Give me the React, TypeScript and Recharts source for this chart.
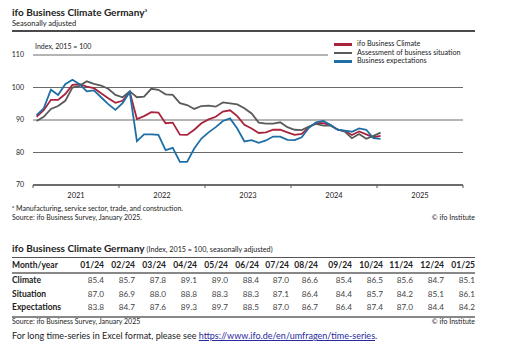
import { CartesianGrid, Legend, Line, LineChart, XAxis, YAxis } from 'recharts';

// monthly values, Jan 2021 – Jan 2025 (index, 2015 = 100)
const climate = [
  91.0, 93.0, 96.2, 96.2, 98.0, 100.8, 101.0, 100.3, 99.8, 98.2, 96.7, 95.3,
  95.9, 98.6, 90.3, 91.2, 92.4, 92.3, 89.0, 89.2, 85.5, 85.4, 87.0, 89.0,
  90.2, 91.0, 92.6, 93.0, 91.2, 88.5, 87.4, 86.0, 86.2, 87.0, 87.0, 86.2,
  85.4, 85.7, 87.8, 89.1, 89.0, 88.4, 87.0, 86.6, 85.4, 86.5, 85.6, 84.7,
  85.1,
];
const situation = [
  89.7, 91.0, 93.4, 94.3, 95.9, 100.0, 100.5, 101.9, 101.1, 100.6, 99.6, 97.7,
  97.0, 98.8, 97.0, 97.2, 99.6, 99.3, 97.9, 97.7, 95.2, 94.6, 93.4, 94.3,
  94.4, 94.1, 95.4, 95.1, 94.8, 93.6, 92.0, 89.2, 88.9, 88.9, 89.3, 87.8,
  87.0, 86.9, 88.0, 88.8, 88.3, 88.3, 87.1, 86.4, 84.4, 85.7, 84.2, 85.1,
  86.1,
];
const expectations = [
  91.5, 93.6, 99.3, 97.7, 101.0, 102.4, 101.0, 98.8, 99.1, 97.0, 94.9, 93.1,
  95.2, 98.6, 83.5, 85.6, 85.6, 85.4, 80.7, 81.4, 77.1, 77.1, 81.2, 84.3,
  86.2, 87.8, 89.7, 90.5, 87.4, 83.4, 83.8, 83.0, 83.7, 84.9, 84.9, 83.9,
  83.8, 84.7, 87.6, 89.3, 89.7, 88.5, 87.0, 86.7, 86.4, 87.4, 87.0, 84.4,
  84.2,
];
const years = ['2021', '2022', '2023', '2024', '2025'];
const yTicks = [70, 80, 90, 100, 110];
const xTicks = [0, 12, 24, 36, 48, 60];

const tableMonths = ['01/24', '02/24', '03/24', '04/24', '05/24', '06/24', '07/24', '08/24', '09/24', '10/24', '11/24', '12/24', '01/25'];
const tableRows = [
  { label: 'Climate', values: climate.slice(36) },
  { label: 'Situation', values: situation.slice(36) },
  { label: 'Expectations', values: expectations.slice(36) },
];

const SERIES = [
  { key: 'climate', name: 'ifo Business Climate', color: '#a8243c' },
  { key: 'situation', name: 'Assessment of business situation', color: '#5a5a5a' },
  { key: 'expectations', name: 'Business expectations', color: '#1f6ea6' },
];

const data = climate.map((v, i) => ({
  t: i + 0.5, // mid-month
  climate: v,
  situation: situation[i],
  expectations: expectations[i],
}));

const FONT = 'Lato, "Noto Sans", sans-serif';
const TXT = '#222';
const PLOT_W = 430;
const colW = [61, 31, 31, 31, 31, 31, 31, 30, 29, 34, 31, 30, 31, 31];

function YearTick({ x, y, payload }: any) {
  const idx = payload.value / 12;
  if (idx >= years.length) return null;
  return (
    <text x={x + PLOT_W / 10} y={y} dy={8} textAnchor="middle" fontSize={7.5} fill={TXT} fontFamily={FONT}>
      {years[idx]}
    </text>
  );
}

function LegendBox() {
  return (
    <div style={{ background: '#fff', padding: '3px 0 3px 6px', width: 140 }}>
      {SERIES.map((s) => (
        <div key={s.key} style={{ display: 'flex', alignItems: 'center', height: 8.5 }}>
          <span style={{ display: 'inline-block', width: 18, height: 2.5, background: s.color, marginRight: 5 }} />
          <span style={{ fontSize: 7.2, color: TXT, fontFamily: FONT, lineHeight: '8px' }}>{s.name}</span>
        </div>
      ))}
    </div>
  );
}

const abs = (o: any) => ({ position: 'absolute' as const, fontFamily: FONT, color: TXT, whiteSpace: 'nowrap' as const, lineHeight: 1, ...o });

export default function App() {
  return (
    <div style={{ position: 'absolute', left: 0, top: 0, width: 511, height: 355, background: '#fff', overflow: 'hidden' }}>
      <div style={abs({ left: 12, top: 7, fontSize: 10, fontWeight: 700 })}>
        ifo Business Climate Germany<sup style={{ fontSize: 5.5, fontWeight: 400 }}>a</sup>
      </div>
      <div style={abs({ left: 12, top: 20, fontSize: 7.5 })}>Seasonally adjusted</div>
      <div style={{ position: 'absolute', left: 12, top: 30, width: 463, height: 2, background: '#4a4a4a' }} />

      <div style={{ position: 'absolute', left: 0, top: 0 }}>
        <LineChart width={511} height={205} data={data} margin={{ top: 55, right: 48, bottom: 0, left: 8 }}>
          <CartesianGrid vertical={false} stroke="#6a6a6a" strokeWidth={1} />
          <XAxis
            dataKey="t"
            type="number"
            domain={[0, 60]}
            ticks={xTicks}
            height={20}
            tickSize={3}
            tickMargin={2}
            tick={<YearTick />}
            stroke="#555"
            axisLine={{ stroke: '#555', strokeWidth: 1.5 }}
            tickLine={{ stroke: '#555' }}
            interval={0}
          />
          <YAxis
            domain={[70, 110]}
            ticks={yTicks}
            width={25}
            tickSize={0}
            tickMargin={9}
            axisLine={false}
            tick={{ fontSize: 7, fill: TXT, fontFamily: FONT }}
            interval={0}
          />
          <Legend
            layout="vertical"
            align="center"
            verticalAlign="middle"
            wrapperStyle={{ left: 328, top: 37, width: 146 }}
            content={<LegendBox />}
          />
          {SERIES.map((s) => (
            <Line
              key={s.key}
              dataKey={s.key}
              name={s.name}
              stroke={s.color}
              strokeWidth={1.8}
              dot={false}
              type="linear"
              isAnimationActive={false}
            />
          ))}
        </LineChart>
      </div>

      <div style={abs({ left: 35, top: 43, fontSize: 7 })}>Index, 2015 = 100</div>

      <div style={abs({ left: 12, top: 205, fontSize: 7 })}>
        <sup style={{ fontSize: 4.5 }}>a</sup> Manufacturing, service sector, trade, and construction.
      </div>
      <div style={abs({ left: 12, top: 214, fontSize: 7 })}>Source: ifo Business Survey, January 2025.</div>
      <div style={abs({ right: 36, top: 214, fontSize: 7 })}>© ifo Institute</div>

      <div style={abs({ left: 12, top: 243, fontSize: 10, fontWeight: 700 })}>
        ifo Business Climate Germany{' '}
        <span style={{ fontSize: 7.2, fontWeight: 400 }}>(Index, 2015 = 100, seasonally adjusted)</span>
      </div>

      <table
        style={{
          position: 'absolute',
          left: 12,
          top: 257,
          borderCollapse: 'collapse',
          tableLayout: 'fixed',
          width: 463,
          fontFamily: FONT,
          fontSize: 8.2,
          color: TXT,
        }}
      >
        <colgroup>
          {colW.map((w, i) => (
            <col key={i} style={{ width: w }} />
          ))}
        </colgroup>
        <thead>
          <tr style={{ height: 15, borderTop: '1.5px solid #555', borderBottom: '2px solid #888' }}>
            <th style={{ textAlign: 'left', padding: 0, fontSize: 8.5 }}>Month/year</th>
            {tableMonths.map((m) => (
              <th key={m} style={{ textAlign: 'right', padding: 0, fontSize: 8.5 }}>{m}</th>
            ))}
          </tr>
        </thead>
        <tbody>
          {tableRows.map((r, ri) => {
            const last = ri === tableRows.length - 1;
            return (
              <tr key={r.label} style={{ height: last ? 16 : 14, borderBottom: last ? '2px solid #888' : 'none' }}>
                <td style={{ fontWeight: 700, padding: last ? '0 0 2px 0' : 0, fontSize: 8.5 }}>{r.label}</td>
                {r.values.map((v, i) => (
                  <td key={i} style={{ textAlign: 'right', padding: last ? '0 0 2px 0' : 0, color: '#444' }}>{v.toFixed(1)}</td>
                ))}
              </tr>
            );
          })}
        </tbody>
      </table>

      <div style={abs({ left: 12, top: 318, fontSize: 7 })}>Source: ifo Business Survey, January 2025</div>
      <div style={abs({ right: 36, top: 318, fontSize: 7 })}>© ifo Institute</div>
      <div style={abs({ left: 12, top: 331, fontSize: 9 })}>
        For long time-series in Excel format, please see{' '}
        <span style={{ color: '#2a2aa0', textDecoration: 'underline' }}>https://www.ifo.de/en/umfragen/time-series</span>.
      </div>
    </div>
  );
}
